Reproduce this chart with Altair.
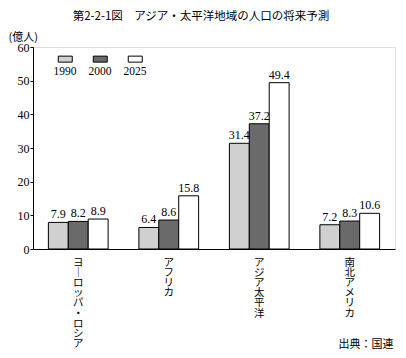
import altair as alt
import pandas as pd

regions = ["ヨーロッパ・ロシア", "アフリカ", "アジア太平洋", "南北アメリカ"]
years = ["1990", "2000", "2025"]
v1990 = [7.9, 6.4, 31.4, 7.2]
v2000 = [8.2, 8.6, 37.2, 8.3]
v2025 = [8.9, 15.8, 49.4, 10.6]
y_ticks = [0, 10, 20, 30, 40, 50, 60]
colors = ["#d0d0d0", "#6a6a6a", "#ffffff"]

rows = []
for i, r in enumerate(regions):
    for yr, vals in zip(years, [v1990, v2000, v2025]):
        rows.append({"region": r, "year": yr, "value": vals[i], "label": f"{vals[i]:.1f}"})
df = pd.DataFrame(rows)

SERIF = "Liberation Serif"
JP = "Noto Sans CJK JP"

x = alt.X(
    "region:N", sort=regions,
    scale=alt.Scale(paddingInner=0.34, paddingOuter=0.17),
    axis=alt.Axis(
        title="出典：国連", titleFont=JP, titleFontSize=11, titleFontWeight="normal",
        titleX=360, titleY=95, titleAlign="right", titleBaseline="middle", titleAnchor="start",
        labelAngle=0, labelExpr="split(replace(datum.value, 'ー', '｜'), '')",
        labelFont=JP, labelFontSize=10.5, labelLineHeight=10.2, labelBaseline="top",
        labelPadding=8, ticks=False, domainColor="black", labelColor="black",
        labelOverlap=False,
    ),
)
xo = alt.XOffset("year:N", sort=years, scale=alt.Scale(paddingInner=0, paddingOuter=0))
y = alt.Y(
    "value:Q", scale=alt.Scale(domain=[0, 60]),
    axis=alt.Axis(
        values=y_ticks, tickCount=7, title="(億人)", titleAngle=0, titleX=-25, titleY=-10,
        titleAlign="left", titleBaseline="middle", titleFont=JP, titleFontSize=11,
        titleFontWeight="normal", grid=False, tickSize=3, labelPadding=1,
        labelFont=SERIF, labelFontSize=12, labelColor="black", domainColor="black",
        tickColor="black", labelOverlap=False, labelFlush=False,
    ),
)

legend = alt.Legend(
    orient="none", legendX=9, legendY=13, direction="horizontal", title=None,
    symbolType="M10.5,-10H24.5V-4H10.5Z", symbolSize=4, symbolOffset=0,
    symbolStrokeColor="black", symbolStrokeWidth=1,
    labelAlign="left", labelBaseline="top", labelOffset=0,
    labelFont=SERIF, labelFontSize=11.5, labelColor="black",
    columnPadding=-10, padding=0,
)

bars = alt.Chart(df).mark_bar(stroke="black", strokeWidth=1).encode(
    x=x, xOffset=xo, y=y,
    fill=alt.Fill("year:N", sort=years, scale=alt.Scale(domain=years, range=colors), legend=legend),
)
texts = alt.Chart(df).mark_text(baseline="bottom", dy=-1, font=SERIF, fontSize=12, color="black").encode(
    x=x, xOffset=xo, y=y, text="label:N",
)

chart = alt.layer(bars, texts).properties(
    width=362, height=202,
    title=alt.TitleParams(
        "第2-2-1図　アジア・太平洋地域の人口の将来予測", font=JP, fontSize=11.5,
        fontWeight="normal", anchor="middle", dx=-13, offset=9, frame="group", color="black",
    ),
    autosize=alt.AutoSizeParams(type="none"),
    padding={"left": 25, "top": 39, "right": 3, "bottom": 101},
).configure_view(stroke="black", strokeWidth=1).configure(background="white")

chart.save("out.html", embed_options={"renderer": "svg", "actions": False})
